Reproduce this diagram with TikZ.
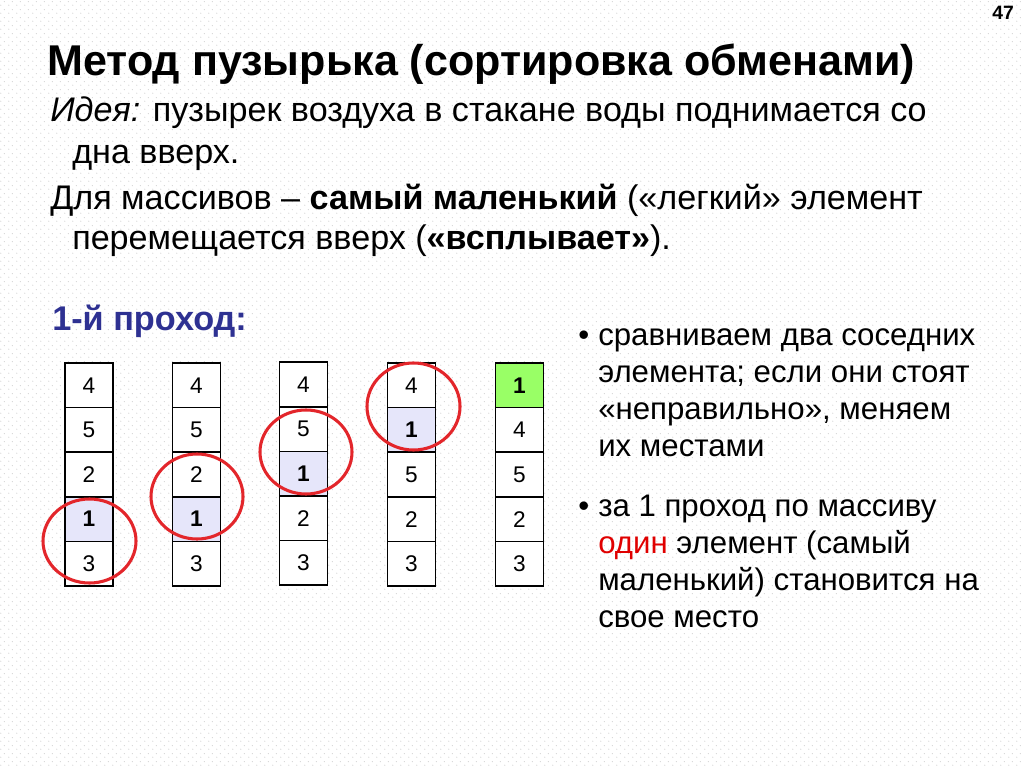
\documentclass[tikz,border=0pt]{standalone}
\usepackage{fontspec}
\setmainfont{Liberation Sans}
\usetikzlibrary{patterns.meta}
\definecolor{dotgray}{HTML}{CCCCCC}
\definecolor{hlblue}{HTML}{E6E6FA}
\definecolor{hlgreen}{HTML}{99FF66}
\definecolor{circred}{HTML}{E3262B}
\definecolor{txtred}{HTML}{E00000}
\definecolor{passblue}{HTML}{2E3192}
\tikzdeclarepattern{name=bgdots, type=uncolored, bounding box={(0pt,0pt) and (6pt,6pt)}, tile size={(6pt,6pt)},
  code={\fill (1.5pt,1.5pt) circle (0.45pt); \fill (4.5pt,4.5pt) circle (0.45pt);}}
\tikzset{
  txt/.style={anchor=base west, inner sep=0pt, font=\fontsize{25.6}{30}\selectfont},
  side/.style={anchor=base west, inner sep=0pt, font=\fontsize{23.4}{28}\selectfont},
  ttl/.style={anchor=base west, inner sep=0pt, font=\fontsize{32.3}{38}\selectfont\bfseries},
  pass/.style={anchor=base west, inner sep=0pt, text=passblue, font=\fontsize{25.7}{30}\selectfont\bfseries},
  pnum/.style={anchor=base west, inner sep=0pt, font=\fontsize{14.5}{17}\selectfont\bfseries},
  cell/.style={draw, line width=1.1pt, fill=white, minimum width=36pt, minimum height=33.45pt, inner sep=0pt, font=\fontsize{17}{20}\selectfont},
  mov/.style={cell, fill=hlblue, font=\fontsize{17}{20}\selectfont\bfseries},
  done/.style={cell, fill=hlgreen, font=\fontsize{17}{20}\selectfont\bfseries},
  ring/.style={draw=circred, line width=2.3pt}
}
\begin{document}
\begin{tikzpicture}[x=0.75pt, y=-0.75pt]
\useasboundingbox (0,0) rectangle (1024,767);
\fill[white] (0,0) rectangle (1024,767);
\fill[pattern=bgdots, pattern color=dotgray] (0,0) rectangle (1024,767);

\node[pnum] (pg) at (992,20) {47};
\node[ttl] (title) at (47,75) {Метод пузырька (сортировка обменами)};

\node[txt] (l1) at (50,122) {\textit{Идея:} пузырек воздуха в стакане воды поднимается со};
\node[txt] (l2) at (72,163) {дна вверх.};
\node[txt] (l3) at (50,209) {Для массивов – \textbf{самый маленький} («легкий» элемент};
\node[txt] (l4) at (72,249) {перемещается вверх (\textbf{«всплывает»}).};

\node[pass] (p1) at (52,330) {1-й проход:};

% columns
\node[cell] (a1) at (89,385.3) {4};
\node[cell] (a2) at (89,429.9) {5};
\node[cell] (a3) at (89,474.5) {2};
\node[mov]  (a4) at (89,519.1) {1};
\node[cell] (a5) at (89,563.7) {3};

\node[cell] (b1) at (196.5,385.3) {4};
\node[cell] (b2) at (196.5,429.9) {5};
\node[cell] (b3) at (196.5,474.5) {2};
\node[mov]  (b4) at (196.5,519.1) {1};
\node[cell] (b5) at (196.5,563.7) {3};

\node[cell] (c1) at (303.5,384.5) {4};
\node[cell] (c2) at (303.5,429.1) {5};
\node[mov]  (c3) at (303.5,473.7) {1};
\node[cell] (c4) at (303.5,518.3) {2};
\node[cell] (c5) at (303.5,562.9) {3};

\node[cell] (d1) at (411.5,385.3) {4};
\node[mov]  (d2) at (411.5,429.9) {1};
\node[cell] (d3) at (411.5,474.5) {5};
\node[cell] (d4) at (411.5,519.1) {2};
\node[cell] (d5) at (411.5,563.7) {3};

\node[done] (e1) at (519.5,385.3) {1};
\node[cell] (e2) at (519.5,429.9) {4};
\node[cell] (e3) at (519.5,474.5) {5};
\node[cell] (e4) at (519.5,519.1) {2};
\node[cell] (e5) at (519.5,563.7) {3};

% rings
\draw[ring] (89.5,541) ellipse [x radius=46.5, y radius=42];
\draw[ring] (197,496.5) ellipse [x radius=46, y radius=42.5];
\draw[ring] (306,452) ellipse [x radius=46, y radius=42];
\draw[ring] (413.5,406.5) ellipse [x radius=46.5, y radius=43.5];

% bullets
\node[side] (b1dot) at (578,345) {•};
\node[side] (r1) at (598,345) {сравниваем два соседних};
\node[side] (r2) at (598,382) {элемента; если они стоят};
\node[side] (r3) at (598,419) {«неправильно», меняем};
\node[side] (r4) at (598,456) {их местами};
\node[side] (b2dot) at (578,516) {•};
\node[side] (r5) at (598,516) {за 1 проход по массиву};
\node[side] (r6) at (598,553) {\textcolor{txtred}{один} элемент (самый};
\node[side] (r7) at (598,590) {маленький) становится на};
\node[side] (r8) at (598,627) {свое место};
\end{tikzpicture}
\end{document}
